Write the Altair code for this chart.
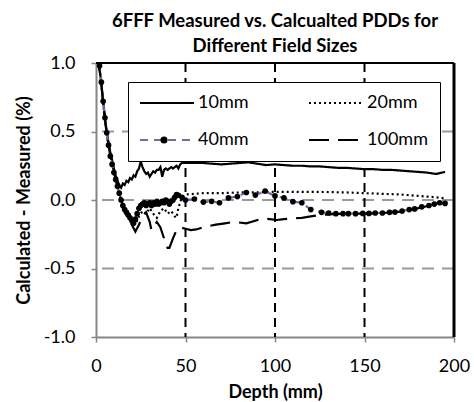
import altair as alt
import pandas as pd

SERIES = ["10mm", "20mm", "40mm", "100mm"]

d10 = [1, 2, 3, 4, 5, 6, 7, 8, 9, 10, 11, 12, 13, 14, 15, 16, 17, 18, 19, 20, 21, 22, 23, 24, 25,
       26, 27, 28, 29, 30, 31, 32, 33, 34, 35, 36, 37, 38, 39, 40, 41, 42, 43, 44, 45, 46, 47, 48,
       50, 55, 60, 65, 70, 75, 80, 85, 90, 95, 100, 105, 110, 115, 120, 125, 130, 135, 140, 145,
       150, 155, 160, 165, 170, 175, 180, 185, 190, 195]
v10 = [1.08, 0.96, 0.85, 0.72, 0.60, 0.50, 0.42, 0.35, 0.29, 0.23, 0.18, 0.14, 0.11, 0.09, 0.12,
       0.11, 0.14, 0.13, 0.16, 0.15, 0.18, 0.17, 0.21, 0.23, 0.28, 0.24, 0.21, 0.19, 0.20, 0.17,
       0.19, 0.21, 0.20, 0.22, 0.22, 0.24, 0.17, 0.22, 0.23, 0.22, 0.23, 0.24, 0.23, 0.24, 0.25,
       0.23, 0.26, 0.27, 0.27, 0.27, 0.27, 0.265, 0.26, 0.265, 0.27, 0.275, 0.265, 0.255, 0.26,
       0.255, 0.25, 0.25, 0.245, 0.245, 0.24, 0.235, 0.235, 0.23, 0.225, 0.225, 0.22, 0.22, 0.215,
       0.21, 0.205, 0.20, 0.19, 0.205]

d20 = [1, 2, 3, 4, 5, 6, 7, 8, 9, 10, 11, 12, 13, 14, 16, 18, 20, 22, 24, 26, 28, 30, 32, 34, 36,
       38, 40, 42, 44, 45, 46, 48, 50, 55, 60, 70, 80, 90, 100, 110, 120, 130, 140, 150, 160, 170,
       180, 190, 195]
v20 = [1.07, 0.95, 0.85, 0.71, 0.59, 0.48, 0.40, 0.33, 0.27, 0.21, 0.15, 0.10, 0.05, 0.0, -0.06,
       -0.10, -0.14, -0.18, -0.12, -0.08, -0.10, -0.06, -0.10, -0.13, -0.08, -0.06, -0.10, -0.08,
       -0.12, -0.13, -0.06, 0.02, 0.04, 0.045, 0.05, 0.05, 0.055, 0.055, 0.06, 0.06, 0.06, 0.058,
       0.055, 0.05, 0.045, 0.04, 0.03, 0.02, 0.012]

d40 = [1, 2, 3, 4, 5, 6, 7, 8, 9, 10, 11, 12, 13, 14, 15, 16, 17, 18, 19, 20, 21, 22, 23, 24, 25,
       26, 27, 28, 29, 30, 31, 32, 33, 34, 35, 36, 37, 38, 39, 40, 41, 42, 43, 44, 45, 46, 48, 50,
       55, 60, 64.6, 69, 74, 79, 84, 89, 94.5, 100, 105, 110, 115, 120, 126, 130, 134, 138, 141,
       145, 149, 152.5, 156, 160, 164, 167, 171, 175, 178, 182, 186, 189, 192, 195]
v40 = [1.1, 0.98, 0.86, 0.72, 0.60, 0.49, 0.40, 0.32, 0.26, 0.20, 0.15, 0.10, 0.05, 0.0, -0.04,
       -0.07, -0.09, -0.11, -0.13, -0.15, -0.17, -0.14, -0.10, -0.06, -0.04, -0.03, -0.02, -0.04,
       -0.03, -0.02, -0.04, -0.02, -0.03, -0.01, -0.03, -0.02, -0.01, -0.02, 0.0, -0.01, -0.03,
       -0.01, 0.0, 0.02, 0.04, 0.035, 0.02, 0.0, 0.007, -0.015, -0.01, -0.02, 0.015, 0.025, 0.055,
       0.036, 0.065, 0.03, 0.015, -0.012, -0.02, -0.07, -0.09, -0.095, -0.1, -0.1, -0.1, -0.1,
       -0.098, -0.098, -0.095, -0.095, -0.09, -0.088, -0.08, -0.07, -0.065, -0.05, -0.04, -0.03,
       -0.02, -0.025]

d100 = [1, 2, 3, 4, 5, 6, 7, 8, 9, 10, 11, 12, 14, 16, 18, 20, 22, 24, 26, 28, 30, 31, 32, 34,
        36, 38, 40, 41, 43, 45, 47, 50, 53, 56, 61, 67, 72, 77, 84, 88, 93, 97, 101, 105, 110,
        115, 120, 125, 130, 140, 150, 160, 170, 180, 190, 195]
v100 = [1.07, 0.95, 0.84, 0.71, 0.59, 0.48, 0.40, 0.33, 0.27, 0.21, 0.15, 0.10, 0.0, -0.08,
        -0.14, -0.18, -0.23, -0.18, -0.12, -0.09, -0.16, -0.22, -0.20, -0.16, -0.20, -0.28,
        -0.35, -0.35, -0.28, -0.22, -0.20, -0.21, -0.22, -0.215, -0.195, -0.18, -0.17, -0.16,
        -0.17, -0.155, -0.135, -0.14, -0.146, -0.14, -0.134, -0.13, -0.12, -0.11, -0.105, -0.1,
        -0.1, -0.095, -0.085, -0.06, -0.03, -0.02]

X_TICKS = [0, 50, 100, 150, 200]
Y_TICKS = [-1.0, -0.5, 0.0, 0.5, 1.0]
V_GRID = [50, 100, 150]
H_GRID = [0.5, 0.0, -0.5]
X_MAX = [200]
Y_MAX = [1.0]

FONT = "Lato"

rows = []
for name, ds, vs in [("10mm", d10, v10), ("20mm", d20, v20), ("40mm", d40, v40), ("100mm", d100, v100)]:
    for d, v in zip(ds, vs):
        rows.append({"depth": d, "diff": v, "series": name})
df = pd.DataFrame(rows)
df_pts = pd.DataFrame({"depth": d40, "diff": v40, "marker": ["40mm"] * len(d40)})

xscale = alt.Scale(domain=[0, 200], nice=False, zero=False)
yscale = alt.Scale(domain=[-1, 1], nice=False, zero=False)

xaxis = alt.Axis(values=X_TICKS, title="Depth (mm)", grid=False, domainColor="#868686",
                 domainWidth=2, tickColor="#868686", tickWidth=1.5, tickSize=5,
                 labelFont=FONT, labelFontSize=18, labelColor="black", labelPadding=15,
                 titleFont=FONT, titleFontSize=18, titleFontWeight="bold", titleColor="black",
                 titlePadding=8, labelFlush=False)
yaxis = alt.Axis(values=Y_TICKS, title="Calculated - Measured (%)", grid=False,
                 domainColor="#868686", domainWidth=2, tickColor="#868686", tickWidth=1.5,
                 tickSize=5, labelFont=FONT, labelFontSize=18, labelColor="black",
                 labelPadding=16,
                 labelExpr="datum.value < 0 ? '-' + format(-datum.value, '.1f') : format(datum.value, '.1f')",
                 titleFont=FONT, titleFontSize=18, titleFontWeight="bold", titleColor="black",
                 titlePadding=10, labelFlush=False)


def X(field):
    return alt.X(field, scale=xscale, axis=xaxis)


def Y(field):
    return alt.Y(field, scale=yscale, axis=yaxis)


hgrid = alt.Chart(pd.DataFrame({"g": H_GRID})).mark_rule(
    color="#9a9a9a", strokeWidth=2, strokeDash=[12, 8]
).encode(y=Y("g:Q"))

vgrid = alt.Chart(pd.DataFrame({"g": V_GRID})).mark_rule(
    color="black", strokeWidth=2, strokeDash=[9, 6]
).encode(x=X("g:Q"))

top_border = alt.Chart(pd.DataFrame({"g": Y_MAX})).mark_rule(
    color="black", strokeWidth=2
).encode(y=Y("g:Q"))

right_border = alt.Chart(pd.DataFrame({"g": X_MAX})).mark_rule(
    color="black", strokeWidth=3
).encode(x=X("g:Q"))

line_legend = alt.Legend(
    title=None, orient="none", legendX=32, legendY=19, columns=2, direction="horizontal",
    symbolType="M-3.375,0H3.375", symbolSize=256, symbolStrokeWidth=2, symbolOffset=18,
    labelOffset=22, labelFont=FONT, labelFontSize=18, labelColor="black",
    columnPadding=56, rowPadding=19, padding=12, strokeColor="black", fillColor="white",
    zindex=1, gridAlign="each"
)

lines = alt.Chart(df).mark_line(clip=True, strokeWidth=2.2).encode(
    x=X("depth:Q"),
    y=Y("diff:Q"),
    color=alt.Color("series:N", scale=alt.Scale(domain=SERIES, range=["black", "black", "#8064a2", "black"]),
                    legend=line_legend),
    strokeDash=alt.StrokeDash("series:N", scale=alt.Scale(domain=SERIES, range=[[1, 0], [2, 3], [8, 6], [20, 9]]),
                              legend=line_legend),
    order=alt.Order("depth:Q"),
)

pt_legend = alt.Legend(
    title=None, orient="none", legendX=63, legendY=72, padding=0, labelExpr="''",
    labelFontSize=10, symbolSize=50, symbolStrokeWidth=0, strokeColor="transparent",
    fillColor="transparent", zindex=2, symbolType="circle"
)

points = alt.Chart(df_pts).mark_point(filled=True, clip=True, size=32, opacity=1).encode(
    x=X("depth:Q"),
    y=Y("diff:Q"),
    fill=alt.Fill("marker:N", scale=alt.Scale(domain=["40mm"], range=["black"]), legend=pt_legend),
)

chart = alt.layer(hgrid, vgrid, top_border, right_border, lines, points).properties(
    width=358, height=274,
    title=alt.TitleParams(
        text=["6FFF Measured vs. Calcualted PDDs for", "Different Field Sizes"],
        font=FONT, fontSize=18.5, fontWeight="bold", color="black", lineHeight=25,
        anchor="middle", frame="group", offset=-1
    ),
    autosize=alt.AutoSizeParams(type="none"),
    padding={"left": 96, "top": 63, "right": 20, "bottom": 65},
).configure_view(stroke=None).configure(background="white")

chart.save("out.html", embed_options={"renderer": "svg", "actions": False})
